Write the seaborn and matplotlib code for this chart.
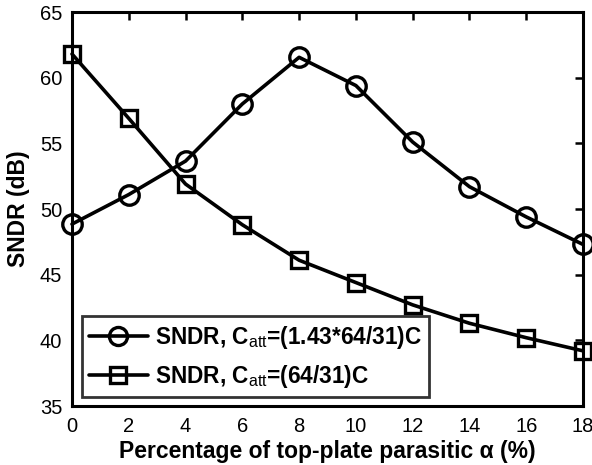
import numpy as np
import pandas as pd
import matplotlib
matplotlib.use("Agg")
import matplotlib.pyplot as plt
import seaborn as sns

alpha_pct = [0, 2, 4, 6, 8, 10, 12, 14, 16, 18]
sndr_143 = [48.85, 51.1, 53.65, 58.0, 61.55, 59.4, 55.1, 51.7, 49.4, 47.3]
sndr_64 = [61.8, 56.9, 51.9, 48.8, 46.1, 44.4, 42.7, 41.3, 40.2, 39.2]
labels = [r"SNDR, C$_{\mathrm{att}}$=(1.43*64/31)C", r"SNDR, C$_{\mathrm{att}}$=(64/31)C"]
xticks = [0, 2, 4, 6, 8, 10, 12, 14, 16, 18]
yticks = [35, 40, 45, 50, 55, 60, 65]

sns.set_style("white")
plt.rcParams['font.family'] = ['Liberation Sans', 'DejaVu Sans']
plt.rcParams['mathtext.fontset'] = 'custom'
plt.rcParams['mathtext.rm'] = 'Liberation Sans'
plt.rcParams['mathtext.it'] = 'Liberation Sans'
for k in ['text.color', 'axes.labelcolor', 'xtick.color', 'ytick.color', 'axes.edgecolor']:
    plt.rcParams[k] = 'black'

df = pd.DataFrame({
    "x": alpha_pct * 2,
    "y": sndr_143 + sndr_64,
    "series": [labels[0]] * len(alpha_pct) + [labels[1]] * len(alpha_pct),
})

fig = plt.figure(figsize=(5.92, 4.65), dpi=100)
ax = fig.add_axes([72/592, 1 - 406/465, (583-72)/592, (406-12)/465])
sns.lineplot(data=df, x="x", y="y", hue="series", style="series",
             markers={labels[0]: "o", labels[1]: "s"}, dashes=False,
             palette={labels[0]: "black", labels[1]: "black"},
             linewidth=2.6, markersize=14, markeredgewidth=2.4,
             markerfacecolor="none", markeredgecolor="black", ax=ax)
for ln, ms in zip(ax.lines, [14, 12]):
    ln.set_markerfacecolor("none")
    ln.set_markersize(ms)
    ln.set_clip_on(False)

ax.set_xlim(0, 18)
ax.set_ylim(35, 65)
ax.set_xticks(xticks)
ax.set_yticks(yticks)
ax.tick_params(direction="in", length=6, width=1.8, top=True, right=True,
               labelsize=14.5, colors="black", labelcolor="black")
ax.tick_params(axis="x", pad=8)
ax.tick_params(axis="y", pad=7)
for s in ax.spines.values():
    s.set_linewidth(2.2)
    s.set_color("black")
    s.set_visible(True)
ax.set_xlabel("Percentage of top-plate parasitic \u03b1 (%)", fontsize=16.5, fontweight="bold", labelpad=3, color="black")
ax.set_ylabel("SNDR (dB)", fontsize=16.5, fontweight="bold", labelpad=7, color="black")

handles, lbls = ax.get_legend_handles_labels()
for h, ms in zip(handles, [13, 12]):
    h.set_markerfacecolor("none")
    h.set_markersize(ms)
    h.set_markeredgewidth(2.4)
leg = ax.legend(handles, lbls, loc="lower left", bbox_to_anchor=(0.019, 0.022),
                frameon=True, fancybox=False, edgecolor="black",
                prop={"weight": "bold", "size": 16.3}, handlelength=2.6,
                borderpad=0.32, labelspacing=0.55, handletextpad=0.3, borderaxespad=0)
leg.get_frame().set_linewidth(2.0)
for t in leg.get_texts():
    t.set_color("black")

fig.savefig("out.png", dpi=100)
